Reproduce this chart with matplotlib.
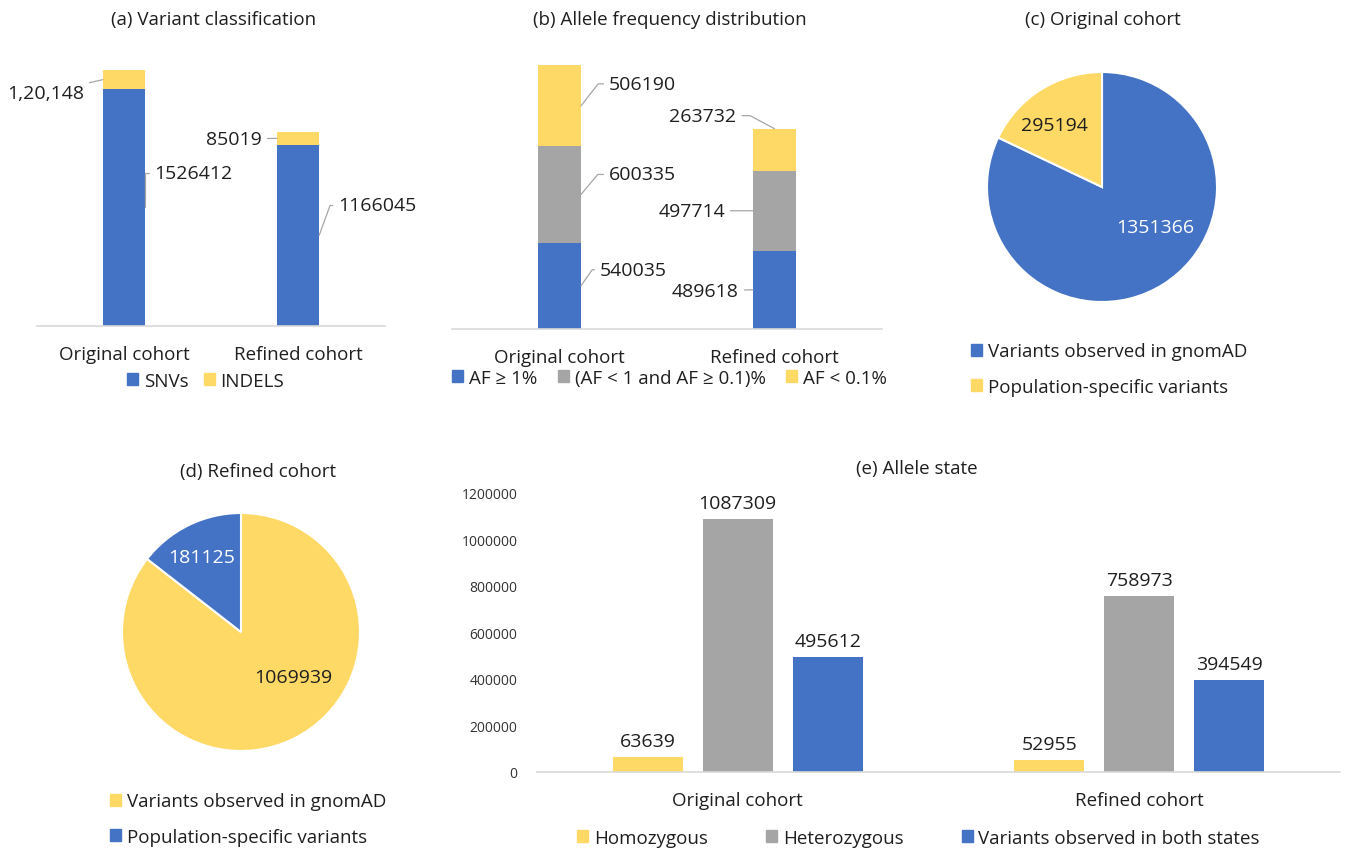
import matplotlib
matplotlib.use('Agg')
import matplotlib.pyplot as plt
from matplotlib.patches import Patch
from matplotlib.ticker import FuncFormatter

plt.rcParams['font.family'] = ['Open Sans', 'DejaVu Sans']

# data
cohorts = ['Original cohort', 'Refined cohort']
snvs = [1526412, 1166045]
indels = [120148, 85019]
indel_labels = ['1,20,148', '85019']

af_common = [540035, 489618]      # AF >= 1%
af_low = [600335, 497714]         # 0.1% <= AF < 1%
af_rare = [506190, 263732]        # AF < 0.1%

orig_gnomad, orig_specific = 1351366, 295194
ref_gnomad, ref_specific = 1069939, 181125

homozygous = [63639, 52955]
heterozygous = [1087309, 758973]
both_states = [495612, 394549]

BLUE = '#4472C4'
YELLOW = '#FFD966'
GRAY = '#A5A5A5'
TXT = '#1f1f1f'
LINE = '#D9D9D9'
LEAD = '#A6A6A6'

FS_TXT = 13.5   # titles, category labels, legends
FS_VAL = 14     # value labels

W, H = 1347, 853
fig = plt.figure(figsize=(W / 100, H / 100), dpi=100)


def px_axes(x0, y0, x1, y1):
    return fig.add_axes([x0 / W, 1 - y1 / H, (x1 - x0) / W, (y1 - y0) / H])


def fx(x):
    return x / W


def fy(y):
    return 1 - y / H


def clean(ax):
    for s in ['top', 'right', 'left']:
        ax.spines[s].set_visible(False)
    ax.spines['bottom'].set_color(LINE)
    ax.spines['bottom'].set_linewidth(1.2)
    ax.tick_params(axis='x', length=0, labelsize=FS_TXT, labelcolor=TXT)
    ax.set_yticks([])
    ax.set_xlim(-0.5, 1.5)


def leader(ax, txt, xy, off, ha, ang=None):
    # grey leader line from the label to the middle of its segment
    cs = 'arc3' if ang is None else f'angle,angleA=0,angleB={ang},rad=0'
    ax.annotate(txt, xy=xy, xytext=off, textcoords='offset pixels',
                ha=ha, va='center', fontsize=FS_VAL, color=TXT, annotation_clip=False,
                arrowprops=dict(arrowstyle='-', color=LEAD, lw=0.9,
                                shrinkA=2, shrinkB=0, connectionstyle=cs))


def legend(handles, x, y, ncol, colsp, spacing=0.5):
    fig.legend(handles=handles, loc='center left', bbox_to_anchor=(fx(x), fy(y)),
               ncol=ncol, frameon=False, fontsize=FS_TXT, borderpad=0, borderaxespad=0,
               handlelength=0.6, handleheight=0.6, handletextpad=0.3,
               columnspacing=colsp, labelspacing=spacing, labelcolor=TXT)


xs = [0, 1]

# (a) Variant classification
ax = px_axes(37, 60, 385, 327)
bw = 0.243
ax.bar(xs, snvs, bw, color=BLUE)
ax.bar(xs, indels, bw, bottom=snvs, color=YELLOW)
ax.set_ylim(0, 267 * 6440)
clean(ax)
ax.set_xticks(xs, cohorts)
ax.tick_params(axis='x', pad=14)
fig.text(fx(214), fy(20), '(a) Variant classification', ha='center', va='center', fontsize=FS_TXT, color=TXT)
leader(ax, indel_labels[0], (xs[0] - bw / 2, snvs[0] + indels[0] / 2), (-19, -13), 'right')
leader(ax, str(snvs[0]), (xs[0] + bw / 2, snvs[0] / 2), (9, 34), 'left', ang=90)
leader(ax, indel_labels[1], (xs[1] - bw / 2, snvs[1] + indels[1] / 2), (-15, -1), 'right')
leader(ax, str(snvs[1]), (xs[1] + bw / 2, snvs[1] / 2), (19, 30), 'left', ang=70)
legend([Patch(color=BLUE, label='SNVs'), Patch(color=YELLOW, label='INDELS')], 127, 382, 2, 0.8)

# (b) Allele frequency distribution
ax = px_axes(452, 60, 882, 330)
bw = 0.2
mid = [a + b for a, b in zip(af_common, af_low)]
ax.bar(xs, af_common, bw, color=BLUE)
ax.bar(xs, af_low, bw, bottom=af_common, color=GRAY)
ax.bar(xs, af_rare, bw, bottom=mid, color=YELLOW)
ax.set_ylim(0, 270 * 6245)
clean(ax)
ax.set_xticks(xs, cohorts)
ax.tick_params(axis='x', pad=14)
fig.text(fx(670), fy(20), '(b) Allele frequency distribution', ha='center', va='center', fontsize=FS_TXT, color=TXT)
leader(ax, str(af_rare[0]), (xs[0] + bw / 2, mid[0] + af_rare[0] / 2), (28, 22), 'left', ang=52)
leader(ax, str(af_low[0]), (xs[0] + bw / 2, af_common[0] + af_low[0] / 2), (28, 20), 'left', ang=50)
leader(ax, str(af_common[0]), (xs[0] + bw / 2, af_common[0] / 2), (19, 16), 'left', ang=55)
leader(ax, str(af_rare[1]), (xs[1], mid[1] + af_rare[1]), (-38, 13), 'right', ang=152)
leader(ax, str(af_low[1]), (xs[1] - bw / 2, af_common[1] + af_low[1] / 2), (-28, 0), 'right')
leader(ax, str(af_common[1]), (xs[1] - bw / 2, af_common[1] / 2), (-14, -1), 'right')
legend([Patch(color=BLUE, label='AF ≥ 1%'),
        Patch(color=GRAY, label='(AF < 1 and AF ≥ 0.1)%'),
        Patch(color=YELLOW, label='AF < 0.1%')], 452, 379, 3, 1.1)


# (c) / (d) pies
def pie(box, values, colors, label_pos, label_colors, title, tx, ty):
    ax = px_axes(*box)
    ax.pie(values, colors=colors, startangle=90, counterclock=False, radius=1,
           wedgeprops=dict(edgecolor='white', linewidth=1.5))
    ax.set_xlim(-1, 1)
    ax.set_ylim(-1, 1)
    ax.set_aspect('equal')
    for v, (px, py), c in zip(values, label_pos, label_colors):
        ax.text(px, py, str(v), ha='center', va='center', fontsize=FS_VAL, color=c)
    fig.text(fx(tx), fy(ty), title, ha='center', va='center', fontsize=FS_TXT, color=TXT)


pie((987, 73, 1217, 303), [orig_gnomad, orig_specific], [BLUE, YELLOW],
    [(0.46, -0.35), (-0.41, 0.54)], ['white', TXT], '(c) Original cohort', 1103, 20)
legend([Patch(color=BLUE, label='Variants observed in gnomAD'),
        Patch(color=YELLOW, label='Population-specific variants')], 971, 370, 1, 1, spacing=0.92)

pie((122, 514, 360, 752), [ref_gnomad, ref_specific], [YELLOW, BLUE],
    [(0.44, -0.38), (-0.33, 0.63)], [TXT, 'white'], '(d) Refined cohort', 258, 472)
legend([Patch(color=YELLOW, label='Variants observed in gnomAD'),
        Patch(color=BLUE, label='Population-specific variants')], 110, 820, 1, 1, spacing=0.92)

# (e) Allele state
ax = px_axes(537, 494, 1340, 773)
bw = 0.175
step = 0.224
series = [(homozygous, YELLOW, 'Homozygous'),
          (heterozygous, GRAY, 'Heterozygous'),
          (both_states, BLUE, 'Variants observed in both states')]
for i, (vals, col, lab) in enumerate(series):
    pos = [x + (i - 1) * step for x in xs]
    bars = ax.bar(pos, vals, bw, color=col, label=lab)
    ax.bar_label(bars, labels=[str(v) for v in vals], padding=5, fontsize=FS_VAL, color=TXT)
ax.set_ylim(0, 1200000)
ax.set_xlim(-0.5, 1.5)
for s in ['top', 'right', 'left']:
    ax.spines[s].set_visible(False)
ax.spines['bottom'].set_color(LINE)
ax.spines['bottom'].set_linewidth(1.2)
ax.set_yticks(range(0, 1200001, 200000))
ax.yaxis.set_major_formatter(FuncFormatter(lambda v, p: f'{int(v)}'))
ax.tick_params(axis='y', length=0, labelsize=10, labelcolor='#333333', pad=14)
ax.set_xticks(xs, cohorts)
ax.tick_params(axis='x', length=0, labelsize=FS_TXT, labelcolor=TXT, pad=14)
fig.text(fx(917), fy(469), '(e) Allele state', ha='center', va='center', fontsize=FS_TXT, color=TXT)
legend([Patch(color=c, label=l) for _, c, l in series], 577, 839, 3, 3.1)

fig.savefig('out.png', dpi=100, facecolor='white')
